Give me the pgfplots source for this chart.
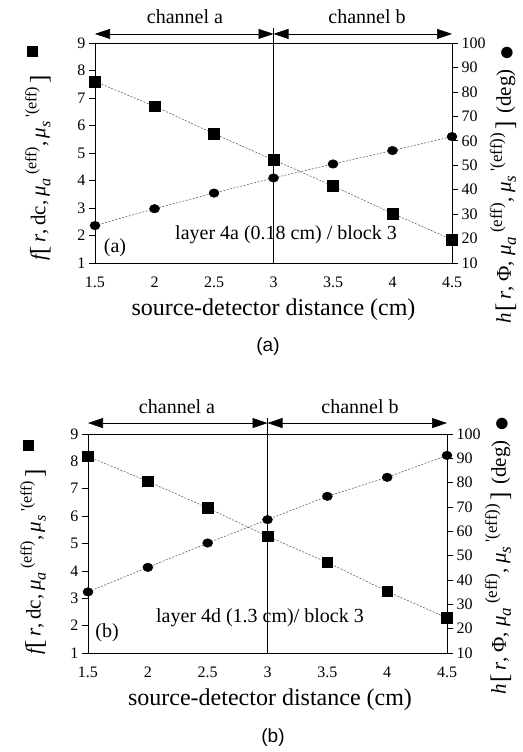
\documentclass[border=0pt]{standalone}
\usepackage{pgfplots}
\pgfplotsset{compat=1.18}
\usepackage{pgfplotstable}
\usepackage{fontspec}
\setmainfont{Liberation Serif}
\newfontfamily\sansf{Liberation Sans}
\newfontfamily\dejavu{DejaVu Sans}
\usetikzlibrary{arrows.meta}

\pgfplotstableread{
x sq ci
1.5 7.60 25.3
2.0 6.70 32.2
2.5 5.70 38.6
3.0 4.75 44.8
3.5 3.80 50.5
4.0 2.80 56.0
4.5 1.85 61.7
}\dataA
\pgfplotstableread{
x sq ci
1.5 8.18 35.1
2.0 7.27 45.2
2.5 6.30 55.2
3.0 5.26 64.8
3.5 4.31 74.4
4.0 3.25 82.2
4.5 2.28 91.2
}\dataB

\newcommand{\lsub}[1]{\raisebox{-5pt}{\fontsize{16}{16}\selectfont #1}}
\newcommand{\lsup}[1]{\raisebox{9pt}{\fontsize{16}{16}\selectfont #1}}
\newcommand{\rsub}[1]{\raisebox{-5pt}{\fontsize{17}{17}\selectfont #1}}
\newcommand{\rsup}[1]{\raisebox{9pt}{\fontsize{17}{17}\selectfont #1}}
\newcommand{\lbr}[1]{\raisebox{-2pt}{\fontsize{25}{25}\selectfont #1}}
\newcommand{\flabel}{{\itshape f}\lbr{[}\,{\itshape r},\,dc,\,{\itshape μ}\lsub{\itshape a}\,\lsup{(eff)},\,{\itshape μ}\lsub{\itshape s}\,\lsup{\textquotesingle(eff)}\,\lbr{]}\hspace{18pt}\rule[7pt]{11pt}{11pt}}
\newcommand{\hlabel}{{\itshape h}\hspace{2pt}\lbr{[}\hspace{3pt}{\itshape r},\hspace{5pt}Φ,\hspace{5pt}{\itshape μ}\rsub{\itshape a}\hspace{4pt}\rsup{(eff)},\hspace{5pt}{\itshape μ}\rsub{\itshape s}\hspace{4pt}\rsup{\textquotesingle(eff))}\hspace{3pt}\lbr{]}\hspace{8pt}(deg)\hspace{10pt}{\dejavu\fontsize{15}{15}\selectfont ●}}

\tikzset{
  arr/.style={{Triangle[length=15pt,width=10pt]}-{Triangle[length=15pt,width=10pt]}, line width=0.6pt},
}
\pgfplotsset{
  base/.style={scale only axis, xmin=1.5, xmax=4.5, clip=false,
    /pgf/number format/assume math mode=true,
    tick label style={font=\fontsize{16}{16}\selectfont},
    axis line style={line width=0.6pt},
    tick style={line width=0.6pt, black},
    major tick length=6pt, tick align=outside,
  },
  leftax/.style={base, ymin=1, ymax=9, ytick={1,2,...,9},
    xtick={1.5,2,2.5,3,3.5,4,4.5}, ytick pos=left, xtick pos=bottom,
    xtick style={draw=none}, xticklabel style={yshift=-4pt},
    xlabel={source-detector distance (cm)},
    ylabel style={font=\fontsize{21}{21}\selectfont, anchor=center},
    xlabel style={font=\fontsize{24}{24}\selectfont, anchor=center},
  },
  rightax/.style={base, ymin=10, ymax=100, ytick={10,20,...,100},
    axis x line=none, axis y line*=right,
    ylabel style={font=\fontsize{21}{21}\selectfont, anchor=center},
  },
  sqline/.style={black!70, dash pattern=on 2pt off 1.5pt, line width=0.5pt,
    mark=square*, mark size=5.3pt, mark options={solid, fill=black, draw=black}},
  ciline/.style={black!70, dash pattern=on 2pt off 1.5pt, line width=0.5pt,
    mark=*, mark size=5pt, mark options={solid, fill=black, draw=black, yscale=0.85}},
}

\begin{document}
\begin{tikzpicture}
\path[use as bounding box] (0,0) rectangle (522pt,752pt);

% ---------------- panel (a)
\begin{axis}[leftax, width=357pt, height=220pt, at={(95pt,489pt)}, anchor=south west,
  xlabel style={at={(axis description cs:0.5,-0.2136)}},
  ylabel={\flabel}, ylabel style={at={(axis description cs:-0.16,0.50)}}]
\addplot[sqline] table[x=x,y=sq]{\dataA};
\draw[line width=0.6pt] (axis cs:3,1) -- (axis cs:3,9.55);
\draw[arr] (axis cs:1.5,9.33) -- (axis cs:3,9.33);
\draw[arr] (axis cs:3,9.33) -- (axis cs:4.5,9.33);
\node[font=\fontsize{20}{20}\selectfont] at (axis cs:2.256,9.95) {channel a};
\node[font=\fontsize{20}{20}\selectfont] at (axis cs:3.786,9.95) {channel b};
\node[font=\fontsize{20}{20}\selectfont] at (axis cs:3.105,2.02) {layer 4a (0.18 cm) / block 3};
\node[font=\fontsize{20}{20}\selectfont] at (axis cs:1.668,1.545) {(a)};
\end{axis}
\begin{axis}[rightax, width=357pt, height=220pt, at={(95pt,489pt)}, anchor=south west,
  ylabel={\hlabel}, ylabel style={at={(axis description cs:1.143,0.355)}}]
\addplot[ciline] table[x=x,y=ci]{\dataA};
\end{axis}
\node[font=\sansf\fontsize{19}{19}\selectfont] at (268pt,405pt) {(a)};

% ---------------- panel (b)
\begin{axis}[leftax, width=359pt, height=219pt, at={(88pt,99pt)}, anchor=south west,
  xlabel style={at={(axis description cs:0.507,-0.2146)}},
  ylabel={\flabel}, ylabel style={at={(axis description cs:-0.153,0.484)}}]
\addplot[sqline] table[x=x,y=sq]{\dataB};
\draw[line width=0.6pt] (axis cs:3,1) -- (axis cs:3,9.58);
\draw[arr] (axis cs:1.5,9.4) -- (axis cs:3,9.4);
\draw[arr] (axis cs:3,9.4) -- (axis cs:4.5,9.4);
\node[font=\fontsize{20}{20}\selectfont] at (axis cs:2.244,9.99) {channel a};
\node[font=\fontsize{20}{20}\selectfont] at (axis cs:3.773,9.99) {channel b};
\node[font=\fontsize{20}{20}\selectfont] at (axis cs:2.937,2.28) {layer 4d (1.3 cm)/ block 3};
\node[font=\fontsize{20}{20}\selectfont] at (axis cs:1.659,1.73) {(b)};
\end{axis}
\begin{axis}[rightax, width=359pt, height=219pt, at={(88pt,99pt)}, anchor=south west,
  ylabel={\hlabel}, ylabel style={at={(axis description cs:1.142,0.443)}}]
\addplot[ciline] table[x=x,y=ci]{\dataB};
\end{axis}
\node[font=\sansf\fontsize{19}{19}\selectfont] at (273pt,14pt) {(b)};
\end{tikzpicture}
\end{document}
